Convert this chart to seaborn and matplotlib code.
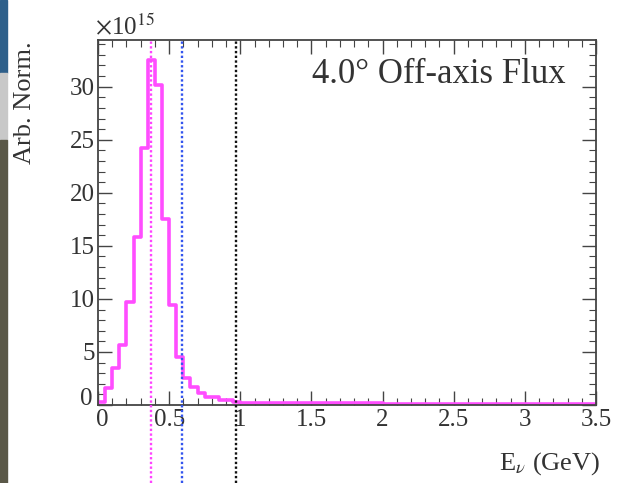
import numpy as np
import pandas as pd
import matplotlib
matplotlib.use("Agg")
import matplotlib.pyplot as plt
import matplotlib.transforms as mtransforms
import seaborn as sns
from matplotlib.patches import Rectangle
from matplotlib.ticker import MultipleLocator

# ---- data (units of 1e15) ----
bin_edges = [0.00, 0.05, 0.10, 0.15, 0.20, 0.25, 0.30, 0.35, 0.40, 0.45, 0.50,
             0.55, 0.60, 0.65, 0.70, 0.75, 0.85, 0.95, 1.00, 1.25, 1.50, 2.00,
             2.50, 3.00, 3.50]
flux = [0.3, 1.6, 3.5, 5.7, 9.7, 15.8, 24.2, 32.5, 30.2, 17.5, 9.4,
        4.5, 2.5, 1.7, 1.1, 0.75, 0.45, 0.3, 0.22, 0.18, 0.15, 0.12,
        0.1, 0.08]
vlines_x = [0.37, 0.59, 0.97]
vlines_colors = ["#ff44ff", "#3355ee", "#111111"]
xticks = [0, 0.5, 1, 1.5, 2, 2.5, 3, 3.5]
xtick_labels = ["0", "0.5", "1", "1.5", "2", "2.5", "3", "3.5"]
yticks = [0, 5, 10, 15, 20, 25, 30]

sns.set_theme(style="ticks")
plt.rcParams['font.family'] = ['Liberation Serif', 'DejaVu Serif']
plt.rcParams['mathtext.fontset'] = 'stix'

fig = plt.figure(figsize=(6.17, 4.83), dpi=100)
ax = fig.add_axes([98/617, 78/483, 498/617, 365/483])

df = pd.DataFrame({"E": bin_edges[:-1], "w": flux})
sns.histplot(data=df, x="E", weights="w", bins=bin_edges, element="step",
             fill=False, color="#ff4dff", linewidth=2.6, ax=ax)

for xv, c in zip(vlines_x, vlines_colors):
    ax.axvline(xv, ymin=-0.215, ymax=1.0, color=c, linestyle=(0, (1.0, 1.0)),
               linewidth=1.7, clip_on=False, zorder=3)

ax.set_xlim(0, 3.5)
ax.set_ylim(0, 34.4)
ax.set_xticks(xticks)
ax.set_xticklabels(xtick_labels)
ax.set_yticks(yticks)
ax.xaxis.set_minor_locator(MultipleLocator(0.1))
ax.yaxis.set_minor_locator(MultipleLocator(1))
ax.tick_params(which="both", direction="in", top=True, right=True,
               labelsize=18, colors="#444444", labelcolor="#333333")
ax.tick_params(which="major", length=10, width=1.0)
ax.tick_params(which="minor", length=5, width=0.8)
ax.tick_params(axis="x", pad=3)
ax.tick_params(axis="y", pad=2)
for s in ax.spines.values():
    s.set_color("#444444")
    s.set_linewidth(1.3)

# nudge the y-axis "0" label up a little so it does not sit on the x "0"
ylab0 = ax.get_yticklabels()[0]
ylab0.set_transform(ylab0.get_transform() +
                    mtransforms.ScaledTranslation(-2/72, 6/72, fig.dpi_scale_trans))
xlab0 = ax.get_xticklabels()[0]
xlab0.set_transform(xlab0.get_transform() +
                    mtransforms.ScaledTranslation(3/72, 0, fig.dpi_scale_trans))

ax.set_xlabel("")
ax.set_ylabel("")
fig.text(0.972, 0.028, r"E$_{\nu}$ (GeV)", ha="right", va="baseline",
         fontsize=19, color="#333333")
fig.text(0.022, 0.915, "Arb. Norm.", rotation=90, ha="left", va="top",
         fontsize=19, color="#333333")
fig.text(0.154, 0.928, r"$\times$10$^{15}$", ha="left", va="baseline",
         fontsize=18, color="#333333")
ax.text(0.94, 0.905, "4.0° Off-axis Flux", transform=ax.transAxes,
        ha="right", va="center", fontsize=25, color="#333333")

# screenshot edge strip
fig.patches.append(Rectangle((0, 410/483), 7/617, 73/483, transform=fig.transFigure,
                             color="#2e5f8a", zorder=0))
fig.patches.append(Rectangle((0, 343/483), 7/617, 67/483, transform=fig.transFigure,
                             color="#c8c8c8", zorder=0))
fig.patches.append(Rectangle((0, 0), 7/617, 343/483, transform=fig.transFigure,
                             color="#5a5848", zorder=0))

fig.savefig("out.png", dpi=100)
